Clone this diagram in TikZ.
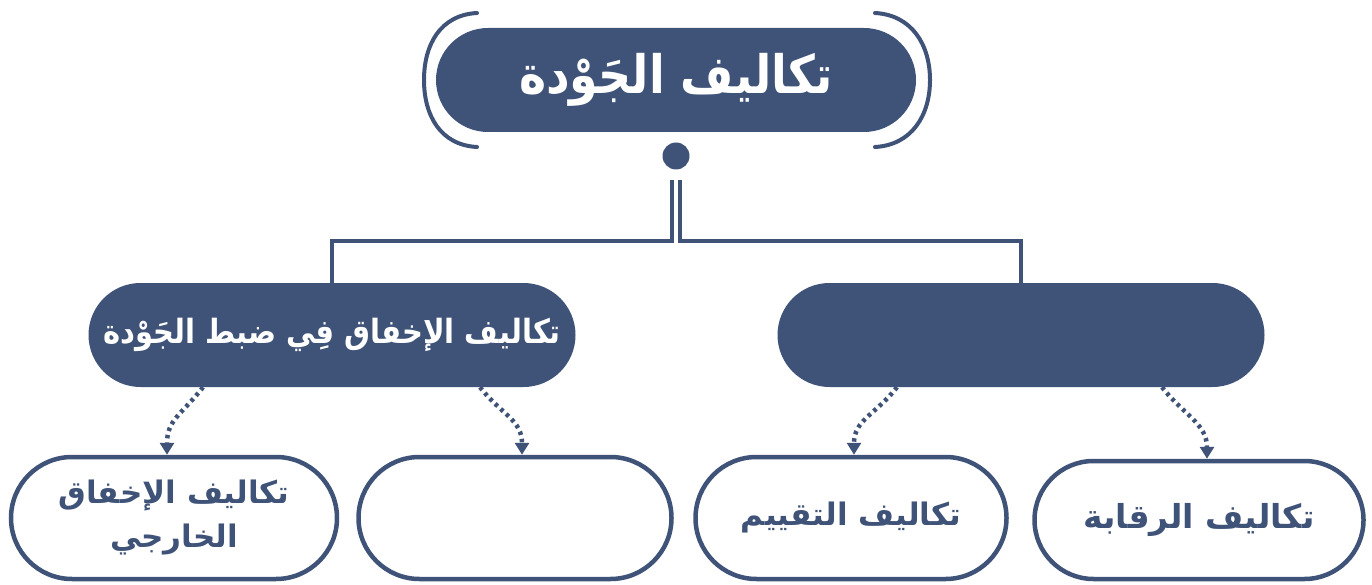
\documentclass[tikz,border=0pt]{standalone}
\usepackage{fontspec}
\newfontfamily\arabicfont[Script=Arabic]{DejaVu Sans}
\TeXXeTstate=1
\usetikzlibrary{shapes.misc,arrows.meta}
\definecolor{navy}{HTML}{3F5378}
\begin{document}
\begin{tikzpicture}[x=1pt,y=-1pt,
  pill/.style={rounded rectangle, fill=navy, text=white, inner sep=0pt,
    font=\arabicfont\bfseries\fontsize{29}{36}\selectfont},
  outpill/.style={rounded rectangle, draw=navy, line width=4.5pt, fill=white,
    text=navy, inner sep=0pt, align=center,
    font=\arabicfont\bfseries\fontsize{31}{44}\selectfont},
  link/.style={draw=navy, line width=3.5pt},
  bracketline/.style={draw=navy, line width=4pt, line cap=round},
  dotarrow/.style={draw=navy, line width=4.5pt, dash pattern=on 3.5pt off 4pt,
    -{Triangle[width=14pt,length=12pt]}}]
\useasboundingbox (0,0) rectangle (1372,585);

% title
\node[pill, minimum width=480pt, minimum height=104pt,
  font=\arabicfont\bfseries\fontsize{46}{50}\selectfont] (title) at (676,80)
  {\scalebox{1}[1.15]{\beginR تكاليف الجَوْدة\endR}};
\draw[bracketline] (477,13) .. controls (440,15) and (424,45) .. (424,80)
  .. controls (424,115) and (440,145) .. (477,147);
\draw[bracketline] (875,13) .. controls (912,15) and (930,45) .. (930,80)
  .. controls (930,115) and (912,145) .. (875,147);
\node[circle, fill=navy, minimum size=27pt, inner sep=0pt] (dot) at (676,156) {};

% second level
\node[pill, minimum width=487pt, minimum height=104pt] (midL) at (332,335)
  {\scalebox{1}[1.15]{\beginR تكاليف الإخفاق فِي ضبط الجَوْدة\endR}};
\node[pill, minimum width=487pt, minimum height=104pt] (midR) at (1021,335) {};

\coordinate (jl) at (672,241);
\coordinate (jr) at (680,241);
\draw[link] ([shift={(-4,10)}]dot.south) -- (jl) -| (midL.north);
\draw[link] ([shift={(4,10)}]dot.south) -- (jr) -| (midR.north);

% third level
\node[outpill, minimum width=326pt, minimum height=122pt] (b1) at (174,518)
  {\beginR تكاليف الإخفاق\endR\\\beginR الخارجي\endR};
\node[outpill, minimum width=313pt, minimum height=122pt] (b2) at (515,518) {};
\node[outpill, minimum width=311pt, minimum height=122pt] (b3) at (851,518)
  {\beginR تكاليف التقييم\endR};
\node[outpill, minimum width=329pt, minimum height=118pt,
  font=\arabicfont\bfseries\fontsize{33}{44}\selectfont] (b4) at (1199,520)
  {\beginR تكاليف الرقابة\endR};

\draw[dotarrow] ([xshift=-129pt]midL.south) .. controls +(-22,28) and +(0,-35) .. ([xshift=-7pt]b1.north);
\draw[dotarrow] ([xshift=148pt]midL.south) .. controls +(22,28) and +(0,-35) .. ([xshift=7pt]b2.north);
\draw[dotarrow] ([xshift=-124pt]midR.south) .. controls +(-22,28) and +(0,-35) .. ([xshift=3pt]b3.north);
\draw[dotarrow] ([xshift=141pt]midR.south) .. controls +(22,28) and +(0,-35) .. ([xshift=8pt]b4.north);
\end{tikzpicture}
\end{document}
